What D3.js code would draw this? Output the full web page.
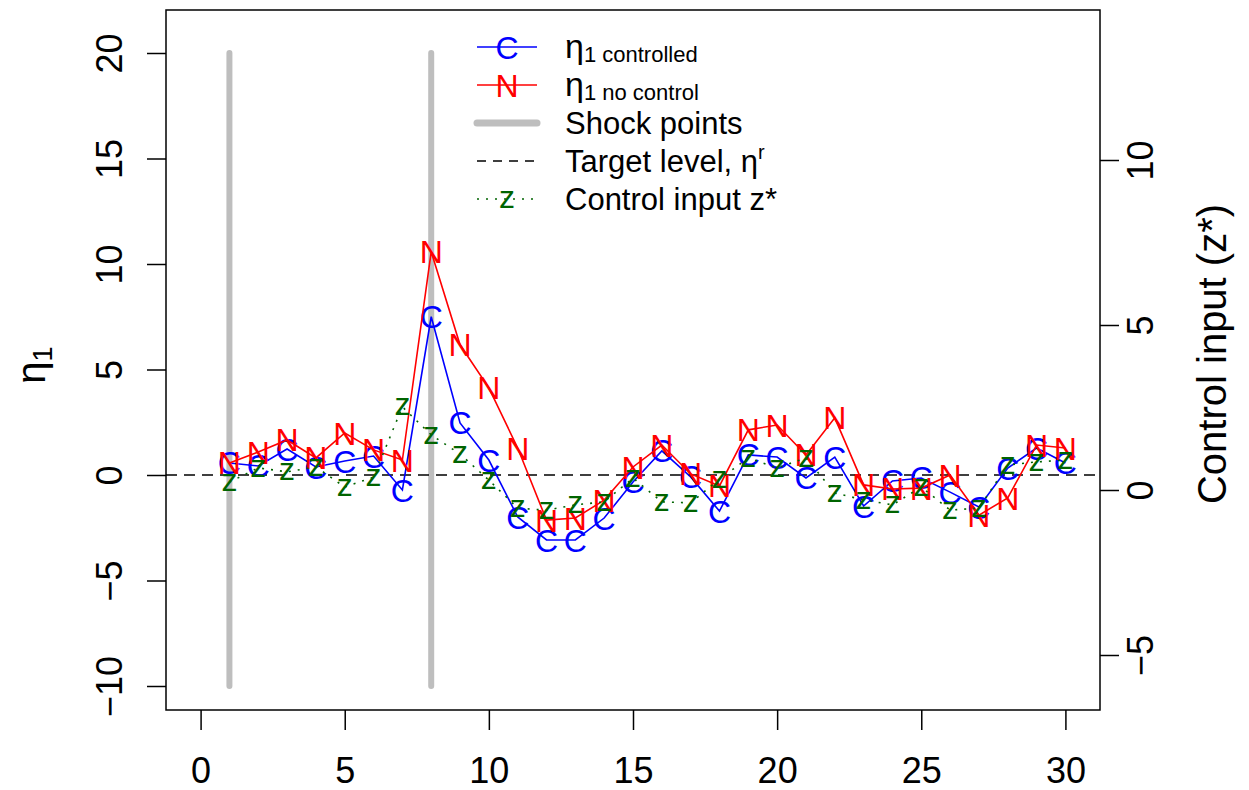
<!DOCTYPE html>
<html>
<head>
<meta charset="utf-8">
<script src="https://cdn.jsdelivr.net/npm/d3@7"></script>
<style>
  body { margin: 0; background: #fff; }
  svg { font-family: "Liberation Sans", Arial, sans-serif; }
</style>
</head>
<body>
<div id="chart"></div>
<script>
// time steps 1..30
const steps = d3.range(1, 31);

// eta_1 with control (C)
const etaControlled = [0.57, 0.43, 1.23, 0.38, 0.66, 0.90, -0.71, 7.5, 2.47, 0.71,
  -1.99, -3.08, -3.08, -2.04, -0.33, 1.14, -0.09, -1.71, 0.95, 0.85,
  -0.14, 0.85, -1.47, -0.28, -0.14, -0.81, -1.52, 0.33, 1.28, 0.57];

// eta_1 without control (N)
const etaNoControl = [0.57, 1.09, 1.66, 0.81, 1.99, 1.19, 0.71, 10.58, 6.17, 4.13,
  1.28, -2.14, -2.04, -1.19, 0.38, 1.42, 0.05, -0.52, 2.14, 2.37,
  0.95, 2.71, -0.47, -0.66, -0.62, 0.0, -1.90, -1.09, 1.42, 1.28];

// control input z* (right axis)
const controlInput = [0.24, 0.67, 0.55, 0.70, 0.09, 0.39, 2.52, 1.67, 1.09, 0.30,
  -0.55, -0.61, -0.45, -0.36, 0.36, -0.36, -0.39, 0.33, 0.97, 0.67,
  0.97, -0.09, -0.30, -0.45, 0.09, -0.61, -0.55, 0.76, 0.85, 0.91];

const shockPoints = [1, 8];
const shockRange = [-10, 20];
const targetLevel = 0;

const xTicks = [0, 5, 10, 15, 20, 25, 30];
const yLeftTicks = [-10, -5, 0, 5, 10, 15, 20];
const yRightTicks = [-5, 0, 5, 10];

const width = 1249, height = 790;
const box = { left: 166, right: 1100, top: 10, bottom: 710 };

const svg = d3.select('#chart').append('svg')
  .attr('width', width)
  .attr('height', height);

const x = d3.scaleLinear().domain([-1.2, 31.2]).range([box.left, box.right]);
const yL = d3.scaleLinear().domain([-10, 20]).range([686, 53]);
const yR = d3.scaleLinear().domain([-5, 10]).range([655, 160]);

const BLUE = '#0000ff', RED = '#ff0000', GREEN = '#006400', GRAY = '#bebebe';

// shock points
svg.selectAll('.shock')
  .data(shockPoints)
  .enter()
  .append('line')
  .attr('class', 'shock')
  .attr('x1', d => x(d)).attr('x2', d => x(d))
  .attr('y1', yL(shockRange[0])).attr('y2', yL(shockRange[1]))
  .attr('stroke', GRAY)
  .attr('stroke-width', 6)
  .attr('stroke-linecap', 'round');

// target level
svg.append('line')
  .attr('x1', box.left).attr('x2', box.right)
  .attr('y1', yL(targetLevel)).attr('y2', yL(targetLevel))
  .attr('stroke', '#000')
  .attr('stroke-width', 1.5)
  .attr('stroke-dasharray', '11,7');

// series drawing helper
function drawSeries(values, yScale, color, ch, dash, dy) {
  const line = d3.line()
    .x((d, i) => x(steps[i]))
    .y(d => yScale(d));
  svg.append('path')
    .datum(values)
    .attr('d', line)
    .attr('fill', 'none')
    .attr('stroke', color)
    .attr('stroke-width', 1.6)
    .attr('stroke-dasharray', dash);
  svg.append('g')
    .selectAll('text')
    .data(values)
    .enter()
    .append('text')
    .attr('x', (d, i) => x(steps[i]))
    .attr('y', d => yScale(d))
    .attr('dy', dy)
    .attr('text-anchor', 'middle')
    .attr('font-size', 32)
    .attr('fill', color)
    .text(ch);
}

drawSeries(etaControlled, yL, BLUE, 'C', null, '0.36em');
drawSeries(etaNoControl, yL, RED, 'N', null, '0.36em');
drawSeries(controlInput, yR, GREEN, 'z', '2,7', '0.27em');

// box
svg.append('rect')
  .attr('x', box.left).attr('y', box.top)
  .attr('width', box.right - box.left)
  .attr('height', box.bottom - box.top)
  .attr('fill', 'none')
  .attr('stroke', '#000')
  .attr('stroke-width', 1.5);

// axes
const xAxis = svg.append('g')
  .attr('transform', `translate(0,${box.bottom})`)
  .call(d3.axisBottom(x).tickValues(xTicks).tickSize(20).tickFormat(d3.format('d')));

const leftAxis = svg.append('g')
  .attr('transform', `translate(${box.left},0)`)
  .call(d3.axisLeft(yL).tickValues(yLeftTicks).tickSize(19));

const rightAxis = svg.append('g')
  .attr('transform', `translate(${box.right},0)`)
  .call(d3.axisRight(yR).tickValues(yRightTicks).tickSize(19));

[xAxis, leftAxis, rightAxis].forEach(g => {
  g.select('.domain').remove();
  g.selectAll('.tick line').attr('stroke', '#000').attr('stroke-width', 1.5);
  g.selectAll('.tick text')
    .attr('fill', '#000')
    .attr('font-size', 36)
    .attr('font-family', '"Liberation Sans", Arial, sans-serif');
});

xAxis.selectAll('.tick text').attr('y', 73).attr('dy', null);

leftAxis.selectAll('.tick text')
  .attr('x', 0).attr('y', -44).attr('dy', null)
  .attr('text-anchor', 'middle')
  .attr('transform', 'rotate(-90)');

rightAxis.selectAll('.tick text')
  .attr('x', 0).attr('y', 53).attr('dy', null)
  .attr('text-anchor', 'middle')
  .attr('transform', 'rotate(-90)');

// axis titles
const yMid = (box.top + box.bottom) / 2;
const leftTitle = svg.append('text')
  .attr('transform', `translate(45,${yMid + 5}) rotate(-90)`)
  .attr('text-anchor', 'middle')
  .attr('font-size', 40);
leftTitle.append('tspan').text('η');
leftTitle.append('tspan').attr('font-size', 27).attr('dy', 7).text('1');

svg.append('text')
  .attr('transform', `translate(1226,${yMid - 6}) rotate(-90)`)
  .attr('text-anchor', 'middle')
  .attr('font-size', 40)
  .text('Control input (z*)');

// legend
const legendItems = [
  { color: BLUE, ch: 'C', width: 1.6, dash: null, main: 'η', sub: '1 controlled' },
  { color: RED, ch: 'N', width: 1.6, dash: null, main: 'η', sub: '1 no control' },
  { color: GRAY, ch: '', width: 7, dash: null, main: 'Shock points' },
  { color: '#000', ch: '', width: 1.5, dash: '9,7', main: 'Target level, η', sup: 'r' },
  { color: GREEN, ch: 'z', width: 1.6, dash: '2,7', main: 'Control input z*' },
];

const legend = svg.append('g')
  .attr('class', 'legend')
  .attr('transform', 'translate(477, 47)');

const rows = legend.selectAll('.legend-item')
  .data(legendItems)
  .enter()
  .append('g')
  .attr('class', 'legend-item')
  .attr('transform', (d, i) => `translate(0, ${i * 38})`);

rows.append('line')
  .attr('x1', 0).attr('x2', 60)
  .attr('stroke', d => d.color)
  .attr('stroke-width', d => d.width)
  .attr('stroke-dasharray', d => d.dash)
  .attr('stroke-linecap', d => d.width > 3 ? 'round' : 'butt');

rows.append('text')
  .attr('x', 30)
  .attr('dy', d => d.ch === 'z' ? '0.27em' : '0.36em')
  .attr('text-anchor', 'middle')
  .attr('font-size', 32)
  .attr('fill', d => d.color)
  .text(d => d.ch);

const labels = rows.append('text')
  .attr('x', 88)
  .attr('y', 11)
  .attr('font-size', 31)
  .attr('fill', '#000');

labels.append('tspan')
  .attr('font-size', d => d.sub ? 34 : 31)
  .text(d => d.main);
labels.filter(d => d.sub)
  .append('tspan')
  .attr('font-size', 22)
  .attr('dy', 4)
  .text(d => d.sub);
labels.filter(d => d.sup)
  .append('tspan')
  .attr('font-size', 20)
  .attr('dy', -13)
  .text(d => d.sup);
</script>
</body>
</html>
